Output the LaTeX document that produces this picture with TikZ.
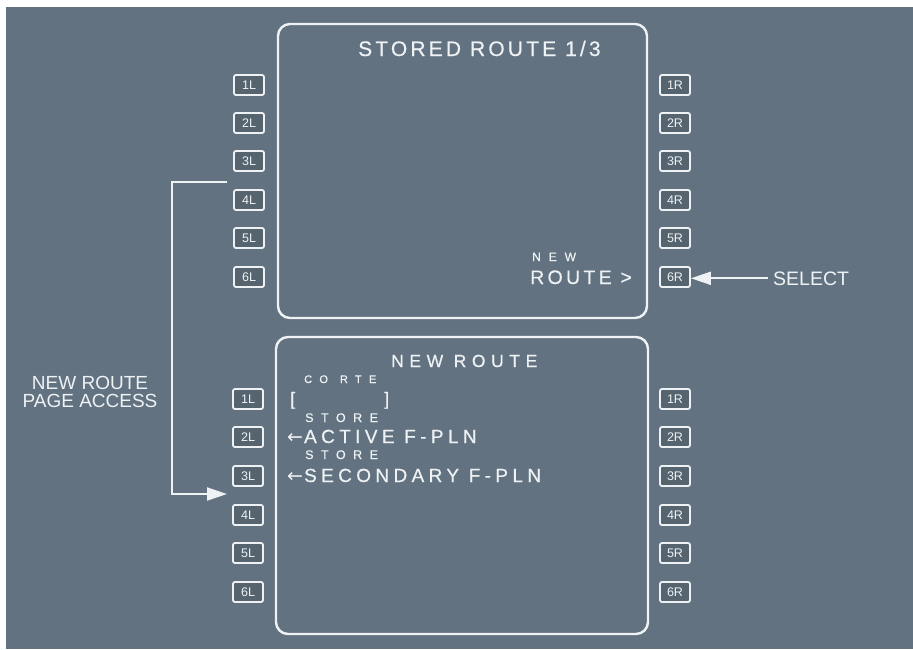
\documentclass[tikz,border=0pt]{standalone}
\usepackage{fontspec}
\setmainfont{Liberation Sans}
\newfontfamily\arwfont{DejaVu Sans}
\usetikzlibrary{arrows.meta}
\definecolor{bg}{HTML}{627280}
\definecolor{fg}{HTML}{EEF2F5}
\definecolor{keyfill}{HTML}{56646F}
\newcommand{\larw}{{\arwfont ←}\hspace{1pt}}
\begin{document}
\begin{tikzpicture}[x=1pt,y=-1pt,
  every node/.style={inner sep=0pt, text=fg},
  sp/.style 2 args={font={\fontsize{#1}{#1}\selectfont\addfontfeature{LetterSpace=#2,FakeBold=0.5}}},
  scr/.style={draw=fg, line width=2.4pt, rounded corners=12pt},
  keybox/.style={draw=fg, line width=1.8pt, rounded corners=2pt, fill=keyfill,
    minimum width=30pt, minimum height=20pt, font={\fontsize{12.5}{13}\selectfont}},
  lbl/.style={anchor=base west},
  conn/.style={draw=fg, line width=2pt},
  tip/.style={-{Triangle[length=20pt,width=13pt]}}
]
\useasboundingbox (0,0) rectangle (913,649);
\fill[white] (0,0) rectangle (913,649);
\fill[bg] (6,7) rectangle (913,649);

% screens
\draw[scr] (278,24) rectangle (647,318);
\draw[scr] (276,337) rectangle (648,634);

% keys
\foreach \i/\y in {1/85,2/123,3/161,4/200,5/238,6/277}{
  \node[keybox] (tL\i) at (249,\y) {\i L};
  \node[keybox] (tR\i) at (675,\y) {\i R};
}
\foreach \i/\y in {1/399,2/437,3/476,4/515,5/553,6/592}{
  \node[keybox] (bL\i) at (248,\y) {\i L};
  \node[keybox] (bR\i) at (675,\y) {\i R};
}

% top screen text
\node[lbl, sp={21}{15}] (title) at (358,56) {STORED ROUTE 1/3};
\node[lbl, sp={12}{66}] (newsm) at (532,261) {NEW};
\node[lbl, sp={19.5}{17}] (route) at (530,284) {ROUTE >};

% bottom screen text
\node[lbl, sp={17.5}{32}] (ntitle) at (391,367) {NEW ROUTE};
\node[lbl, sp={11}{66}] (corte) at (304,383) {CO\hspace{12pt}RTE};
\node[lbl, sp={18}{0}] (brl) at (290,405) {[};
\node[lbl, sp={18}{0}] (brr) at (384,405) {]};
\node[lbl, sp={12.5}{60}] (st1) at (305,422) {STORE};
\node[lbl, sp={19}{23}] (act) at (287,443) {\larw ACTIVE F-PLN};
\node[lbl, sp={12.5}{60}] (st2) at (305,459) {STORE};
\node[lbl, sp={19}{23}] (sec) at (287,482) {\larw SECONDARY F-PLN};

% outside labels
\node[lbl, font={\fontsize{19.5}{20}\selectfont}] (sel) at (773,285) {SELECT};
\node[anchor=north, align=center, font={\fontsize{19}{18}\selectfont}] (acc) at (90,376) {NEW ROUTE\\PAGE ACCESS};

% connectors
\coordinate (accA) at (227,182);
\coordinate (accB) at (172,182);
\coordinate (accC) at (172,494);
\coordinate (accD) at (227,494);
\draw[conn, tip] (accA) -- (accB) -- (accC) -- (accD);
\draw[conn, tip] ([xshift=-5pt]sel.west) -- (tR6.east |- sel.west);
\end{tikzpicture}
\end{document}
